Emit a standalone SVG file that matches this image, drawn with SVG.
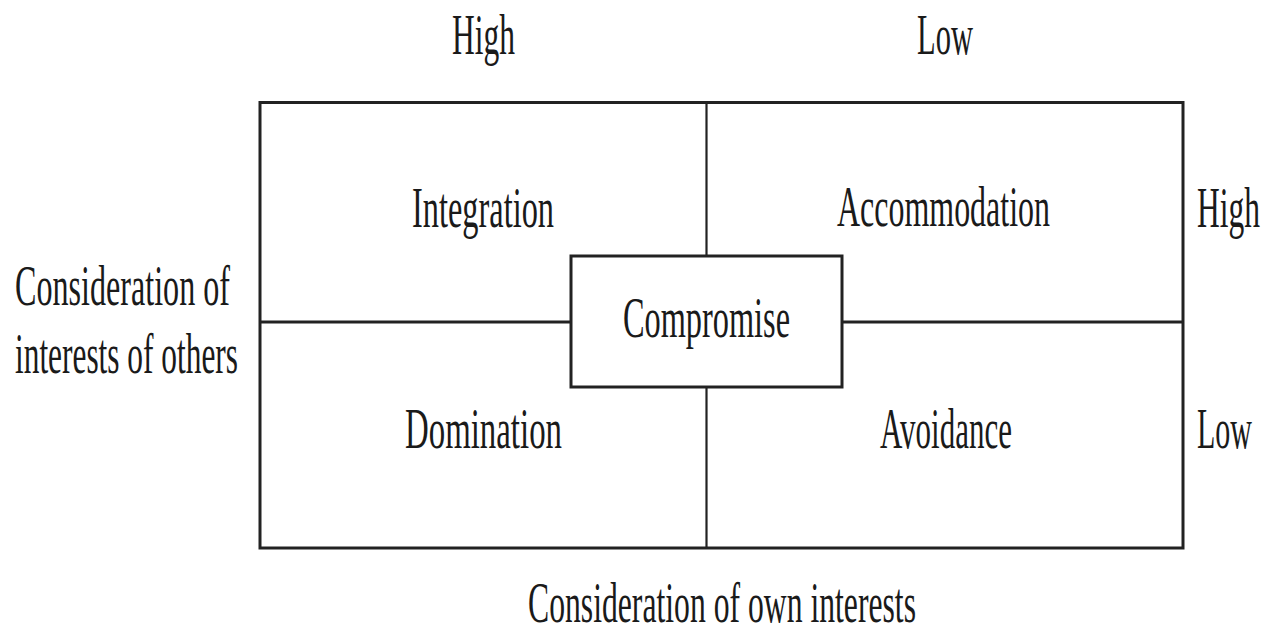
<svg xmlns="http://www.w3.org/2000/svg" width="1278" height="626" viewBox="0 0 1278 626">
  <style>
    .lbl { font-family: "Liberation Serif", "Times New Roman", serif; font-size: 58px; fill: #1a1a1a; }
    .frame { fill: none; stroke: #222; stroke-width: 3; }
    .div { fill: none; stroke: #222; stroke-width: 2.2; }
    .box { fill: #fff; stroke: #222; stroke-width: 3; }
  </style>
  <rect width="1278" height="626" fill="#fff"/>

  <!-- outer frame and dividing lines of the 2x2 grid -->
  <g id="connectors">
    <rect class="frame" x="260" y="102.5" width="923" height="445.5"/>
    <line class="div" x1="706.5" y1="102.5" x2="706.5" y2="548"/>
    <line class="frame" x1="260" y1="322" x2="1183" y2="322"/>
  </g>

  <!-- quadrants -->
  <g id="integration">
    <text class="lbl" x="412" y="227" textLength="142" lengthAdjust="spacingAndGlyphs">Integration</text>
  </g>
  <g id="accommodation">
    <text class="lbl" x="837" y="226" textLength="213" lengthAdjust="spacingAndGlyphs">Accommodation</text>
  </g>
  <g id="domination">
    <text class="lbl" x="405" y="448" textLength="157" lengthAdjust="spacingAndGlyphs">Domination</text>
  </g>
  <g id="avoidance">
    <text class="lbl" x="880" y="448" textLength="132" lengthAdjust="spacingAndGlyphs">Avoidance</text>
  </g>

  <!-- centre box -->
  <g id="compromise">
    <rect class="box" x="571" y="256" width="271" height="131"/>
    <text class="lbl" x="623" y="337" textLength="167" lengthAdjust="spacingAndGlyphs">Compromise</text>
  </g>

  <!-- axis labels -->
  <g id="own-high">
    <text class="lbl" x="452" y="54" textLength="63" lengthAdjust="spacingAndGlyphs">High</text>
  </g>
  <g id="own-low">
    <text class="lbl" x="917" y="54" textLength="56" lengthAdjust="spacingAndGlyphs">Low</text>
  </g>
  <g id="others-high">
    <text class="lbl" x="1197" y="227" textLength="63" lengthAdjust="spacingAndGlyphs">High</text>
  </g>
  <g id="others-low">
    <text class="lbl" x="1197" y="448" textLength="55" lengthAdjust="spacingAndGlyphs">Low</text>
  </g>
  <g id="axis-others">
    <text class="lbl" x="15" y="305" textLength="215" lengthAdjust="spacingAndGlyphs">Consideration of</text>
    <text class="lbl" x="15" y="373" textLength="223" lengthAdjust="spacingAndGlyphs">interests of others</text>
  </g>
  <g id="axis-own">
    <text class="lbl" x="528" y="622" textLength="388" lengthAdjust="spacingAndGlyphs">Consideration of own interests</text>
  </g>
</svg>
